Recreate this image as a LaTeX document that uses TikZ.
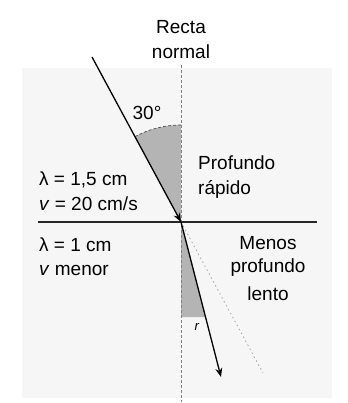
\documentclass[tikz,border=0pt]{standalone}
\usepackage{fontspec}
\setmainfont{Liberation Sans}
\usetikzlibrary{arrows.meta}
\definecolor{wedge}{HTML}{B4B4B4}
\definecolor{bgc}{HTML}{F6F6F6}
\tikzset{
  lbl/.style={inner sep=0pt, font=\fontsize{19}{23}\selectfont},
  ray/.style={line width=1.3pt, -{Stealth[length=9pt,width=7pt]}},
  normalline/.style={gray, line width=0.6pt, dash pattern=on 3pt off 2pt},
  ghost/.style={gray!70, line width=0.8pt, dash pattern=on 1.5pt off 3pt},
}
\begin{document}
\begin{tikzpicture}[x=1pt,y=-1pt]
\useasboundingbox (0,0) rectangle (347,403);
\fill[bgc] (22,68) rectangle (332,398);
% key points
\coordinate (O) at (181,222);
\coordinate (S) at (92,57);
\coordinate (E) at (221,377);
\coordinate (G) at (263,373);
\coordinate (Ntop) at (181,65);
\coordinate (Nbot) at (181,402);
\coordinate (IL) at (38,222);
\coordinate (IR) at (317,222);
\coordinate (W1) at (181,317);
\coordinate (W2) at (205.5,317);
% upper wedge (30 deg sector)
\fill[wedge] (O) -- ++(0,-97) arc[start angle=270, end angle=241.7, radius=97] -- cycle;
\draw[gray!60!black, line width=0.7pt, dash pattern=on 3pt off 2pt] (O) ++(0,-97) arc[start angle=270, end angle=241.7, radius=97];
% lower wedge
\fill[wedge] (O) -- (W1) -- (W2) -- cycle;
% normal
\draw[normalline] (Ntop) -- (Nbot);
% undeviated continuation
\draw[ghost] (O) -- (G);
% interface
\draw[line width=1.2pt, black!85] (IL) -- (IR);
% rays
\draw[ray] (S) -- (O);
\draw[ray] (O) -- (E);
% labels
\node[lbl] (rec) at (181,27) {Recta};
\node[lbl] (nor) at (181,52) {normal};
\node[lbl] (ang) at (147,113) {30°};
\node[lbl, anchor=west] (pro) at (198,163) {Profundo};
\node[lbl, anchor=west] (rap) at (198,189) {rápido};
\node[lbl, anchor=west] (l1) at (39,180) {λ = 1,5 cm};
\node[lbl, anchor=west] (v1) at (39,204) {\textit{v} = 20 cm/s};
\node[lbl, anchor=west] (l2) at (39,245) {λ = 1 cm};
\node[lbl, anchor=west] (v2) at (39,270) {\textit{v} menor};
\node[lbl] (men) at (268,243) {Menos};
\node[lbl] (pr2) at (268,268) {profundo};
\node[lbl] (len) at (268,294) {lento};
\node[lbl, font=\fontsize{13}{15}\selectfont] (r) at (197,327) {\textit{r}};
\end{tikzpicture}
\end{document}
